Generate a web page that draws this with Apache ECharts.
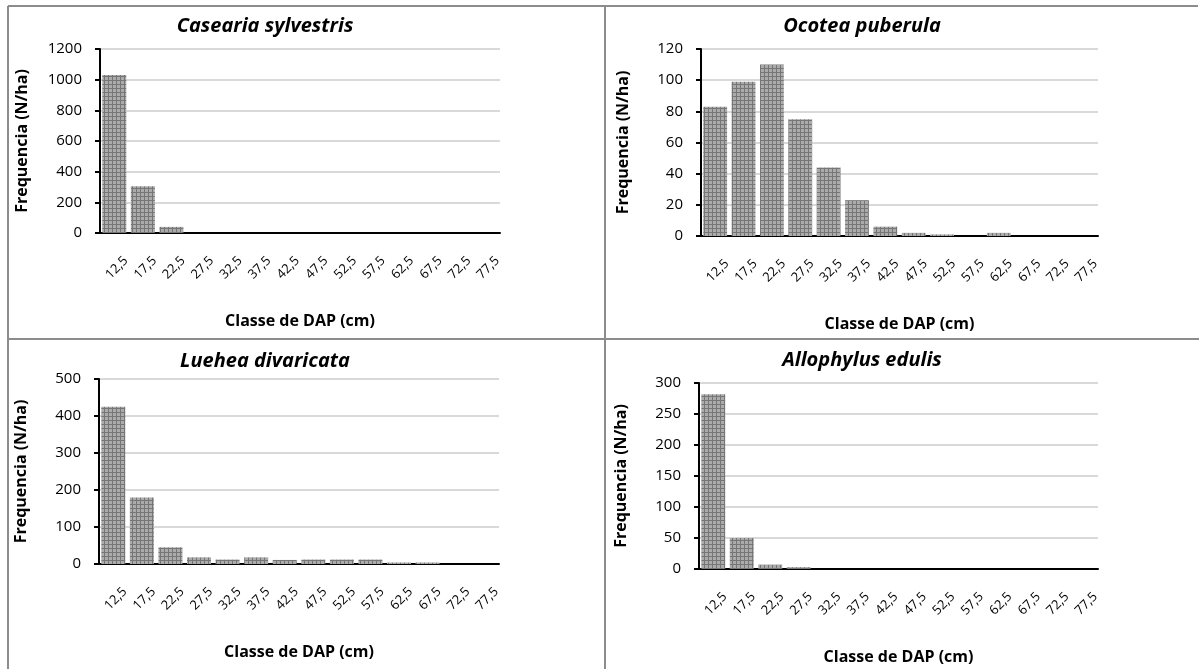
<!DOCTYPE html>
<html>
<head>
<meta charset="utf-8">
<script src="https://cdn.jsdelivr.net/npm/echarts@6/dist/echarts.min.js"></script>
<style>
  html, body { margin: 0; padding: 0; background: #fff; }
  #main { width: 1199px; height: 669px; }
</style>
</head>
<body>
<div id="main"></div>
<script>
// classes de DAP
const classes = ['12,5', '17,5', '22,5', '27,5', '32,5', '37,5', '42,5', '47,5', '52,5', '57,5', '62,5', '67,5', '72,5', '77,5'];

// frequencia (N/ha) por especie
const casearia = [1030, 305, 40, 0, 0, 0, 0, 0, 0, 0, 0, 0, 0, 0];
const ocotea = [83, 99, 110, 75, 44, 23, 6, 2, 1, 0, 2, 0, 0, 0];
const luehea = [425, 180, 45, 18, 12, 18, 11, 12, 12, 12, 4, 4, 0, 0];
const allophylus = [282, 50, 7, 3, 0, 0, 0, 0, 0, 0, 0, 0, 0, 0];

const titles = ['Casearia sylvestris', 'Ocotea puberula', 'Luehea divaricata', 'Allophylus edulis'];
const yMax = [1200, 120, 500, 300];
const yStep = [200, 20, 100, 50];
const seriesData = [casearia, ocotea, luehea, allophylus];

// grade cinza das barras
function hatch() {
  const c = document.createElement('canvas');
  c.width = 4; c.height = 4;
  const ctx = c.getContext('2d');
  ctx.fillStyle = '#ababab';
  ctx.fillRect(0, 0, 4, 4);
  ctx.fillStyle = '#767676';
  ctx.fillRect(0, 0, 4, 1);
  ctx.fillRect(0, 0, 1, 4);
  return c;
}
const pattern = { image: hatch(), repeat: 'repeat' };

const font = 'Open Sans';
const grids = [
  { left: 100, right: 699, top: 49, bottom: 436 },
  { left: 701, right: 101, top: 49, bottom: 433 },
  { left: 99, right: 700, top: 379, bottom: 105 },
  { left: 699, right: 101, top: 383, bottom: 100 }
];
const titlePos = [[260, 11], [857, 11], [260, 346], [857, 345]];

const chart = echarts.init(document.getElementById('main'));

chart.setOption({
  animation: false,
  title: titles.map((t, i) => ({
    text: t,
    left: titlePos[i][0],
    top: titlePos[i][1],
    textAlign: 'center',
    textStyle: { fontFamily: font, fontSize: 20, fontWeight: 'bold', fontStyle: 'italic', color: '#000' }
  })),
  grid: grids,
  xAxis: grids.map((g, i) => ({
    type: 'category',
    gridIndex: i,
    data: classes,
    name: 'Classe de DAP (cm)',
    nameLocation: 'middle',
    nameGap: 80,
    nameTextStyle: { fontFamily: font, fontSize: 16, fontWeight: 'bold', color: '#000' },
    axisLine: { lineStyle: { color: '#000', width: 2 } },
    axisTick: { length: 5, lineStyle: { color: '#000', width: 2 } },
    axisLabel: {
      rotate: 45, interval: 0, margin: 14, fontFamily: font, fontSize: 13, color: '#000',
      verticalAlign: 'top', padding: [10, 0, 0, 0]
    }
  })),
  yAxis: grids.map((g, i) => ({
    type: 'value',
    gridIndex: i,
    min: 0,
    max: yMax[i],
    interval: yStep[i],
    name: 'Frequencia (N/ha)',
    nameLocation: 'middle',
    nameGap: 70,
    nameTextStyle: { fontFamily: font, fontSize: 16, fontWeight: 'bold', color: '#000' },
    axisLine: { show: true, lineStyle: { color: '#000', width: 2 } },
    axisTick: { show: true, length: 5, lineStyle: { color: '#000', width: 2 } },
    axisLabel: { margin: 18, fontFamily: font, fontSize: 15, color: '#000', formatter: v => String(v) },
    splitLine: { lineStyle: { color: '#d9d9d9', width: 2 } }
  })),
  series: seriesData.map((d, i) => ({
    type: 'bar',
    xAxisIndex: i,
    yAxisIndex: i,
    data: d,
    barCategoryGap: '16%',
    itemStyle: { color: pattern }
  })),
  graphic: [
    { type: 'line', shape: { x1: 8, y1: 6, x2: 1198, y2: 6 }, style: { stroke: '#8c8c8c', lineWidth: 2 } },
    { type: 'line', shape: { x1: 8, y1: 6, x2: 8, y2: 669 }, style: { stroke: '#8c8c8c', lineWidth: 2 } },
    { type: 'line', shape: { x1: 605, y1: 6, x2: 605, y2: 669 }, style: { stroke: '#8c8c8c', lineWidth: 2 } },
    { type: 'line', shape: { x1: 8, y1: 339, x2: 1199, y2: 339 }, style: { stroke: '#8c8c8c', lineWidth: 2 } }
  ]
});
</script>
</body>
</html>
